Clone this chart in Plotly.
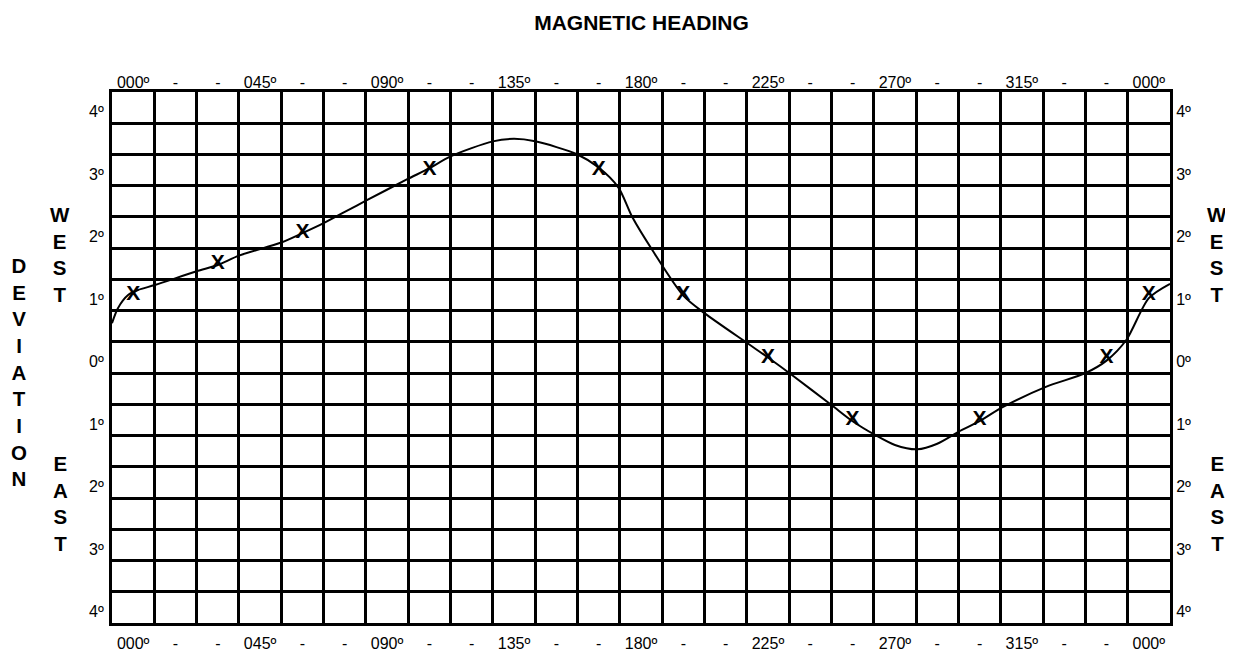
import plotly.graph_objects as go
import numpy as np

# ---- data ----
x_tick_vals = list(range(0, 361, 15))
x_tick_text = ["000º", "-", "-", "045º", "-", "-", "090º", "-", "-", "135º", "-", "-",
               "180º", "-", "-", "225º", "-", "-", "270º", "-", "-", "315º", "-", "-", "000º"]
y_tick_vals = [4, 3, 2, 1, 0, -1, -2, -3, -4]
y_tick_text = ["4º", "3º", "2º", "1º", "0º", "1º", "2º", "3º", "4º"]

# observed deviation points (marked X)
obs_heading = [0, 30, 60, 105, 165, 195, 225, 255, 300, 345, 360]
obs_deviation = [1.0, 1.5, 2.0, 3.0, 3.0, 1.0, 0.0, -1.0, -1.0, 0.0, 1.0]

# hand-drawn deviation curve
curve_heading = [-7.5, -5.4, -1.8, 1.7, 7.7, 22.5, 30, 37.5, 52.5, 60, 67.5, 75, 82.5, 97,
                 105, 112.5, 127.5, 135, 142.5, 157.5, 165, 172, 177, 184, 195,
                 202.5, 218, 225, 233.5, 247.5, 255, 263, 270, 278, 285, 292.5, 300, 308,
                 323.5, 337.5, 345, 352, 360, 367.5]
curve_deviation = [0.55, 0.79, 1.00, 1.08, 1.16, 1.38, 1.48, 1.63, 1.84, 1.99, 2.15, 2.33,
                   2.51, 2.85, 3.03, 3.22, 3.46, 3.50, 3.46, 3.25, 3.04, 2.72, 2.24, 1.72,
                   0.99, 0.71, 0.22, 0.0, -0.28, -0.76, -1.02, -1.24, -1.40, -1.47,
                   -1.38, -1.19, -1.02, -0.80, -0.47, -0.25, -0.05, 0.28, 0.95, 1.18]

FONT = "Liberation Sans, Arial, sans-serif"
x_range = [-7.5, 367.5]
y_range = [-4.25, 4.25]
x_grid = list(np.arange(-7.5, 367.6, 15))
y_grid = list(np.arange(-4.25, 4.26, 0.5))

# page has an 8px body margin; figure sized so that it fits the 1233x652 window
OFF = 8
FIG_W, FIG_H = 1233 - OFF, 652 - OFF
M_L, M_R, M_T, M_B = 104, 63, 84, 29

fig = go.Figure()
fig.add_trace(go.Scatter(
    x=curve_heading, y=curve_deviation, mode="lines",
    line=dict(color="black", width=2, shape="spline", smoothing=0.8),
    xaxis="x", yaxis="y", hoverinfo="skip", showlegend=False))
fig.add_trace(go.Scatter(
    x=obs_heading, y=obs_deviation, mode="text", text=["X"] * len(obs_heading),
    textposition="middle center",
    textfont=dict(family=FONT, size=21, color="black", weight="bold"),
    xaxis="x2", yaxis="y2", showlegend=False))

common_x = dict(range=x_range, tickmode="array", tickvals=x_tick_vals, ticktext=x_tick_text,
                ticks="", showgrid=False, zeroline=False, automargin=False,
                tickfont=dict(family=FONT, size=16, color="black"),
                showline=True, linecolor="black", linewidth=3, mirror=True)
common_y = dict(range=y_range, tickmode="array", tickvals=y_tick_vals, ticktext=y_tick_text,
                ticks="", showgrid=False, zeroline=False, automargin=False,
                tickfont=dict(family=FONT, size=16, color="black"),
                ticklabelshift=4,
                showline=True, linecolor="black", linewidth=3, mirror=True)

plot_l = OFF + M_L
plot_w = FIG_W - M_L - M_R
plot_b = OFF + FIG_H - M_B
plot_h = FIG_H - M_T - M_B


def px(xp):
    return (xp - plot_l) / plot_w


def py(yp):
    return (plot_b - yp) / plot_h


fig.update_layout(
    width=FIG_W, height=FIG_H,
    margin=dict(l=M_L, r=M_R, t=M_T, b=M_B, pad=0, autoexpand=False),
    paper_bgcolor="white", plot_bgcolor="white",
    showlegend=False,
    title=dict(text="<b>MAGNETIC HEADING</b>", xref="paper", x=px(641.5), xanchor="center",
               yref="container", y=1 - (22.5 - OFF) / FIG_H, yanchor="middle",
               font=dict(family=FONT, size=21, color="black")),
    xaxis=dict(**common_x, side="bottom", ticklabelstandoff=4,
               minor=dict(tickmode="array", tickvals=x_grid, showgrid=True,
                          gridcolor="black", gridwidth=3, ticks="")),
    xaxis2=dict(**common_x, side="top", overlaying="x", matches="x", ticklabelstandoff=-5),
    yaxis=dict(**common_y, side="left", ticklabelstandoff=2,
               minor=dict(tickmode="array", tickvals=y_grid, showgrid=True,
                          gridcolor="black", gridwidth=3, ticks="")),
    yaxis2=dict(**common_y, side="right", overlaying="y", matches="y", ticklabelstandoff=0),
)


def stacked(word):
    return "<br>".join(list(word))


labels = [
    ("DEVIATION", 19, 371.5),
    ("WEST", 60, 254.5),
    ("EAST", 60, 503.5),
    ("WEST", 1217, 254.5),
    ("EAST", 1217, 503.5),
]
for word, xp, yp in labels:
    fig.add_annotation(text="<b>" + stacked(word) + "</b>", xref="paper", yref="paper",
                       x=px(xp), y=py(yp), xanchor="center", yanchor="middle",
                       showarrow=False, align="center",
                       font=dict(family=FONT, size=20.5, color="black"))

fig.write_html("out.html")
